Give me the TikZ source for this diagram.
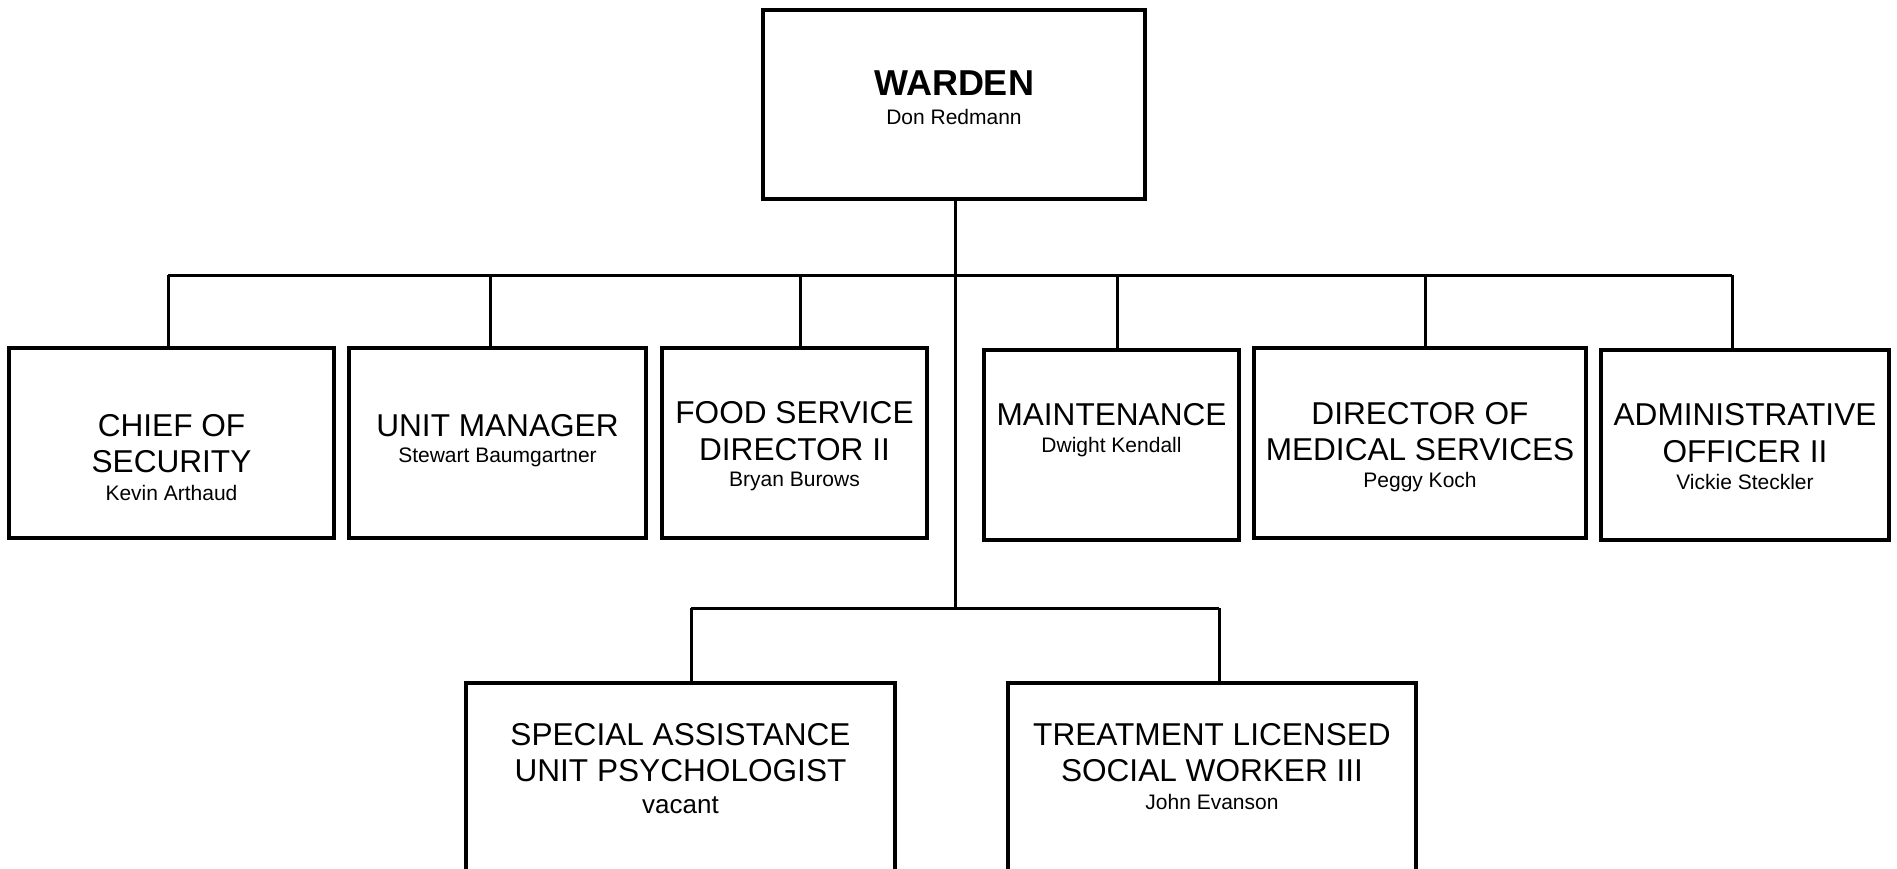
\documentclass[tikz,border=0pt]{standalone}
\usepackage{fontspec}
\setmainfont{Liberation Sans}
\begin{document}
\begin{tikzpicture}[x=1pt,y=-1pt,
  box/.style={draw=black, line width=3.6pt, fill=white, inner sep=0pt, rectangle},
  conn/.style={draw=black, line width=3pt},
  ttl/.style={anchor=base, inner sep=0pt, font=\fontsize{31.6}{36}\selectfont},
  nm/.style={anchor=base, inner sep=0pt, font=\fontsize{21}{25}\selectfont}]
\useasboundingbox[fill=white] (0,0) rectangle (1897,868);

% connector coordinates
\coordinate (d1) at (168,275);
\coordinate (d2) at (490,275);
\coordinate (d3) at (800.5,275);
\coordinate (bm) at (955.5,275);
\coordinate (d4) at (1117,275);
\coordinate (d5) at (1425,275);
\coordinate (d6) at (1732,275);
\coordinate (lb) at (955.5,608);
\coordinate (e1) at (691,608);
\coordinate (e2) at (1219,608);

% boxes
\node[box, minimum width=382pt, minimum height=189pt] (warden) at (954,104.5) {};
\node[box, minimum width=325pt, minimum height=190pt] (chief) at (171.5,443) {};
\node[box, minimum width=297pt, minimum height=190pt] (unit) at (497.5,443) {};
\node[box, minimum width=265pt, minimum height=190pt] (food) at (794.5,443) {};
\node[box, minimum width=255pt, minimum height=190pt] (maint) at (1111.5,445) {};
\node[box, minimum width=332pt, minimum height=190pt] (med) at (1420,443) {};
\node[box, minimum width=288pt, minimum height=190pt] (admin) at (1745,445) {};
\node[box, minimum width=429pt, minimum height=217pt] (special) at (680.5,791.5) {};
\node[box, minimum width=408pt, minimum height=217pt] (treat) at (1212,791.5) {};

% connectors
\draw[conn] (warden.south -| bm) -- (bm) -- (lb);
\draw[conn] (d1) -- (d6);
\draw[conn] (d1) -- (d1 |- chief.north);
\draw[conn] (d2) -- (d2 |- unit.north);
\draw[conn] (d3) -- (d3 |- food.north);
\draw[conn] (d4) -- (d4 |- maint.north);
\draw[conn] (d5) -- (d5 |- med.north);
\draw[conn] (d6) -- (d6 |- admin.north);
\draw[conn] (e1) -- (e2);
\draw[conn] (e1) -- (e1 |- special.north);
\draw[conn] (e2) -- (e2 |- treat.north);

% texts
\node[ttl, font=\fontsize{36}{40}\selectfont\bfseries] (wT1) at (954,95) {WARDEN};
\node[nm] (wT2) at (954,124) {Don Redmann};

\node[ttl] (cT1) at (171.5,436) {CHIEF OF};
\node[ttl] (cT2) at (171.5,472.7) {SECURITY};
\node[nm] (cT3) at (171.5,500) {Kevin Arthaud};

\node[ttl] (uT1) at (497.5,436) {UNIT MANAGER};
\node[nm] (uT2) at (497.5,462.7) {Stewart Baumgartner};

\node[ttl] (fT1) at (794.5,423) {FOOD SERVICE};
\node[ttl] (fT2) at (794.5,460) {DIRECTOR II};
\node[nm] (fT3) at (794.5,486.7) {Bryan Burows};

\node[ttl] (mT1) at (1111.5,425) {MAINTENANCE};
\node[nm] (mT2) at (1111.5,452.7) {Dwight Kendall};

\node[ttl] (dT1) at (1420,424) {DIRECTOR OF};
\node[ttl] (dT2) at (1420,460) {MEDICAL SERVICES};
\node[nm] (dT3) at (1420,487.7) {Peggy Koch};

\node[ttl] (aT1) at (1745,425.7) {ADMINISTRATIVE};
\node[ttl] (aT2) at (1745,462.3) {OFFICER II};
\node[nm] (aT3) at (1745,489.3) {Vickie Steckler};

\node[ttl] (sT1) at (680.5,745.7) {SPECIAL ASSISTANCE};
\node[ttl] (sT2) at (680.5,781.7) {UNIT PSYCHOLOGIST};
\node[nm, font=\fontsize{26}{30}\selectfont] (sT3) at (680.5,813.3) {vacant};

\node[ttl] (tT1) at (1212,745.7) {TREATMENT LICENSED};
\node[ttl] (tT2) at (1212,781.7) {SOCIAL WORKER III};
\node[nm] (tT3) at (1212,809.3) {John Evanson};
\end{tikzpicture}
\end{document}
